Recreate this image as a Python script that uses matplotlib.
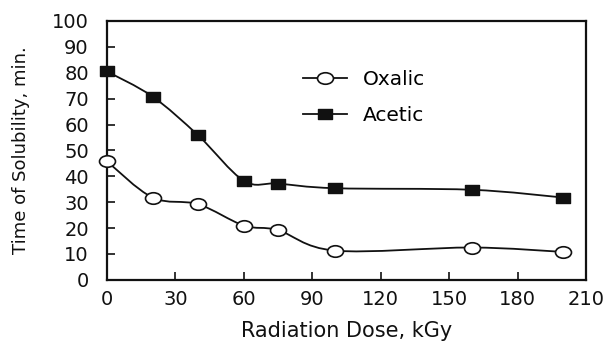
import numpy as np
import matplotlib.pyplot as plt
from matplotlib.path import Path
from matplotlib.patches import PathPatch
from matplotlib.lines import Line2D

# Solubility time vs radiation dose
dose_oxalic = [0, 20, 40, 60, 75, 100, 160, 200]
time_oxalic = [45.8, 31.8, 29.2, 21.0, 19.2, 11.3, 12.5, 10.8]

dose_acetic = [0, 20, 40, 60, 75, 100, 160, 200]
time_acetic = [80.5, 70.8, 55.8, 38.3, 37.2, 35.4, 34.8, 31.8]

x_ticks = [0, 30, 60, 90, 120, 150, 180, 210]
y_ticks = [0, 10, 20, 30, 40, 50, 60, 70, 80, 90, 100]


def smooth_path(xs, ys):
    # Catmull-Rom spline through the points, written as cubic Bezier segments
    p = np.column_stack([xs, ys]).astype(float)
    ext = np.vstack([p[0], p, p[-1]])
    verts = [p[0]]
    codes = [Path.MOVETO]
    for i in range(1, len(ext) - 2):
        p0, p1, p2, p3 = ext[i - 1], ext[i], ext[i + 1], ext[i + 2]
        c1 = p1 + (p2 - p0) / 6.0
        c2 = p2 - (p3 - p1) / 6.0
        verts += [c1, c2, p2]
        codes += [Path.CURVE4] * 3
    return Path(verts, codes)


# slightly wide markers
circ = Path.unit_circle()
oval = Path(circ.vertices * [1.0, 0.72], circ.codes)
rect = Path([(-1, -0.8), (1, -0.8), (1, 0.8), (-1, 0.8), (-1, -0.8)],
            [Path.MOVETO, Path.LINETO, Path.LINETO, Path.LINETO, Path.CLOSEPOLY])

plt.rcParams['font.family'] = ['DejaVu Sans']
ink = '#111111'

fig = plt.figure(figsize=(6.11, 3.43), dpi=100)
ax = fig.add_axes([0.175, 0.184, 0.784, 0.755])

for xs, ys in [(dose_oxalic, time_oxalic), (dose_acetic, time_acetic)]:
    ax.add_patch(PathPatch(smooth_path(xs, ys), facecolor='none',
                           edgecolor=ink, lw=1.3, zorder=2))

ax.plot(dose_oxalic, time_oxalic, linestyle='none', marker=oval, markersize=11.5,
        markerfacecolor='white', markeredgecolor=ink, markeredgewidth=1.2,
        zorder=3, clip_on=False)
ax.plot(dose_acetic, time_acetic, linestyle='none', marker=rect, markersize=9.5,
        markerfacecolor=ink, markeredgecolor=ink, markeredgewidth=1.0,
        zorder=3, clip_on=False)

ax.set_xlim(0, 210)
ax.set_ylim(0, 100)
ax.set_xticks(x_ticks)
ax.set_yticks(y_ticks)
ax.tick_params(axis='both', direction='in', length=6, width=1.2,
               labelsize=14, colors=ink)
ax.tick_params(axis='y', pad=13)
ax.tick_params(axis='x', pad=7)
for s in ax.spines.values():
    s.set_linewidth(1.6)
    s.set_color(ink)

ax.set_xlabel('Radiation Dose, kGy', fontsize=15, labelpad=9, color=ink)
ax.set_ylabel('Time of Solubility, min.', fontsize=13, labelpad=16, color=ink)

handles = [
    Line2D([], [], color=ink, lw=1.3, marker=oval, markersize=11.5,
           markerfacecolor='white', markeredgecolor=ink, markeredgewidth=1.2),
    Line2D([], [], color=ink, lw=1.3, marker=rect, markersize=9.5,
           markerfacecolor=ink, markeredgecolor=ink),
]
ax.legend(handles, ['Oxalic', 'Acetic'], loc='upper left',
          bbox_to_anchor=(0.409, 0.81), frameon=False, fontsize=14.5,
          borderpad=0, borderaxespad=0,
          handlelength=2.2, handletextpad=0.8, labelspacing=0.85)

fig.savefig('out.png', dpi=100)
